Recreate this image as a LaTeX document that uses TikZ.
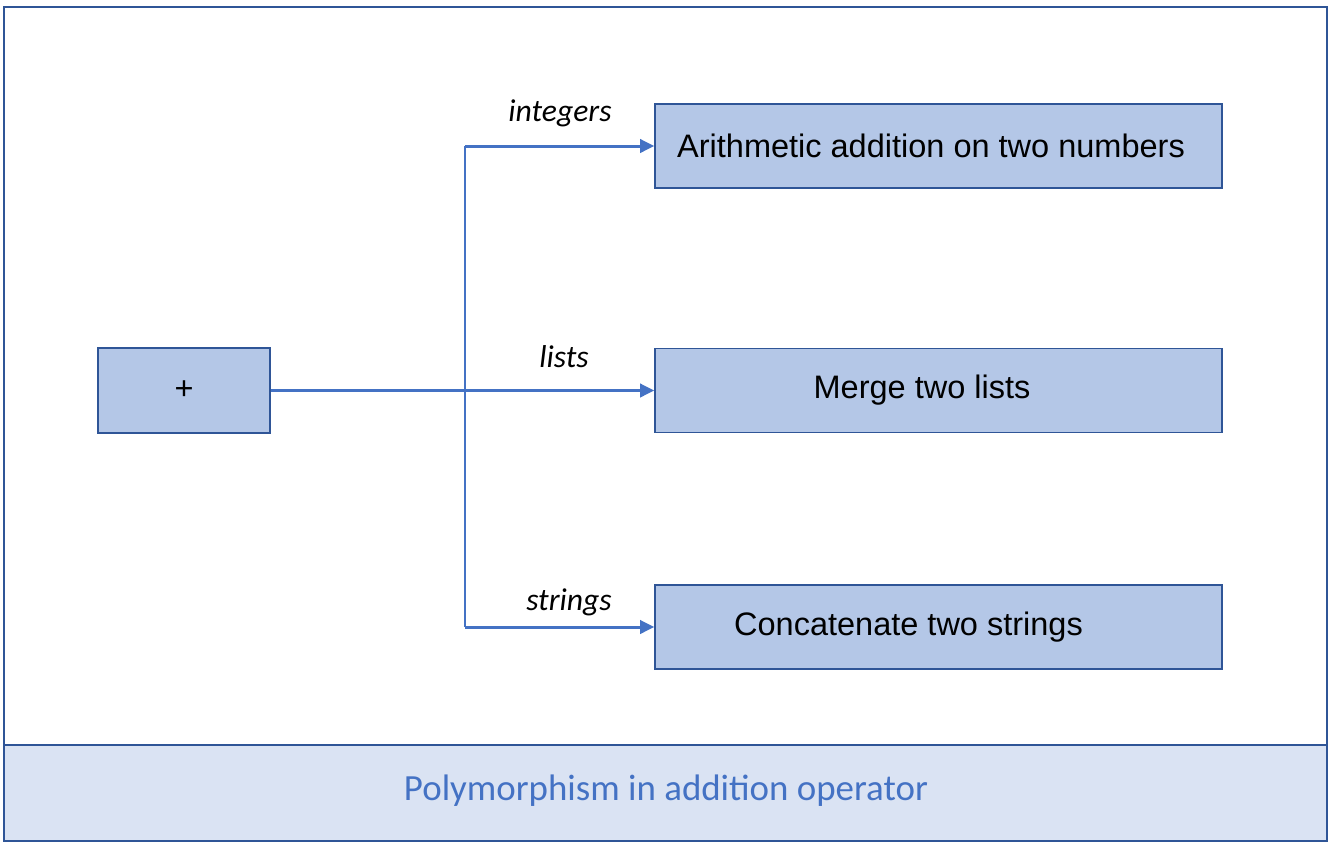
\documentclass[tikz,border=0pt]{standalone}
\usepackage{fontspec}
\setmainfont{Liberation Sans}
\newfontfamily\calibri{Carlito}
\usetikzlibrary{arrows.meta}

\definecolor{boxfill}{HTML}{B4C7E7}
\definecolor{boxline}{HTML}{2F5597}
\definecolor{linkblue}{HTML}{4472C4}
\definecolor{capfill}{HTML}{DAE3F3}

\tikzset{
  opbox/.style={draw=boxline, fill=boxfill, line width=0.9pt, inner sep=0pt,
    minimum width=11.34cm, minimum height=1.68cm, font=\fontsize{18.5}{22}\selectfont},
  link/.style={draw=linkblue, line width=1.7pt},
  arr/.style={link, -{Triangle[length=8pt,width=7.5pt]}},
  kind/.style={font=\calibri\itshape\fontsize{18}{22}\selectfont}
}

\begin{document}
\begin{tikzpicture}[x=0.02cm, y=-0.02cm]
\useasboundingbox (0,0) rectangle (1332,846);
\fill[capfill] (4,745) rectangle (1327,841);
\draw[boxline, line width=0.9pt] (4,7) rectangle (1327,841);
\draw[boxline, line width=0.9pt] (4,745) -- (1327,745);

\node[opbox, minimum width=3.44cm, minimum height=1.7cm] (plus) at (184,390.5) {+};
\node[opbox] (arith) at (938.5,146) {Arithmetic addition on two numbers\hspace*{0.3cm}};
\node[opbox] (merge) at (938.5,390.5) {Merge two lists\hspace*{0.66cm}};
\node[opbox] (concat) at (938.5,627) {Concatenate two strings\hspace*{1.2cm}};

\coordinate (top) at (465,146);
\coordinate (bottom) at (465,627);
\draw[link] (top) -- (bottom);
\draw[arr] (plus) -- (merge);
\draw[arr] (top) -- (arith);
\draw[arr] (bottom) -- (concat);

\node[kind] (intlbl) at (560,113) {integers};
\node[kind] (listlbl) at (564,357) {lists};
\node[kind] (strlbl) at (569,602) {strings};

\node[text=linkblue, font=\calibri\fontsize{21}{25}\selectfont] (caption) at (666,791) {Polymorphism in addition operator};
\end{tikzpicture}
\end{document}
